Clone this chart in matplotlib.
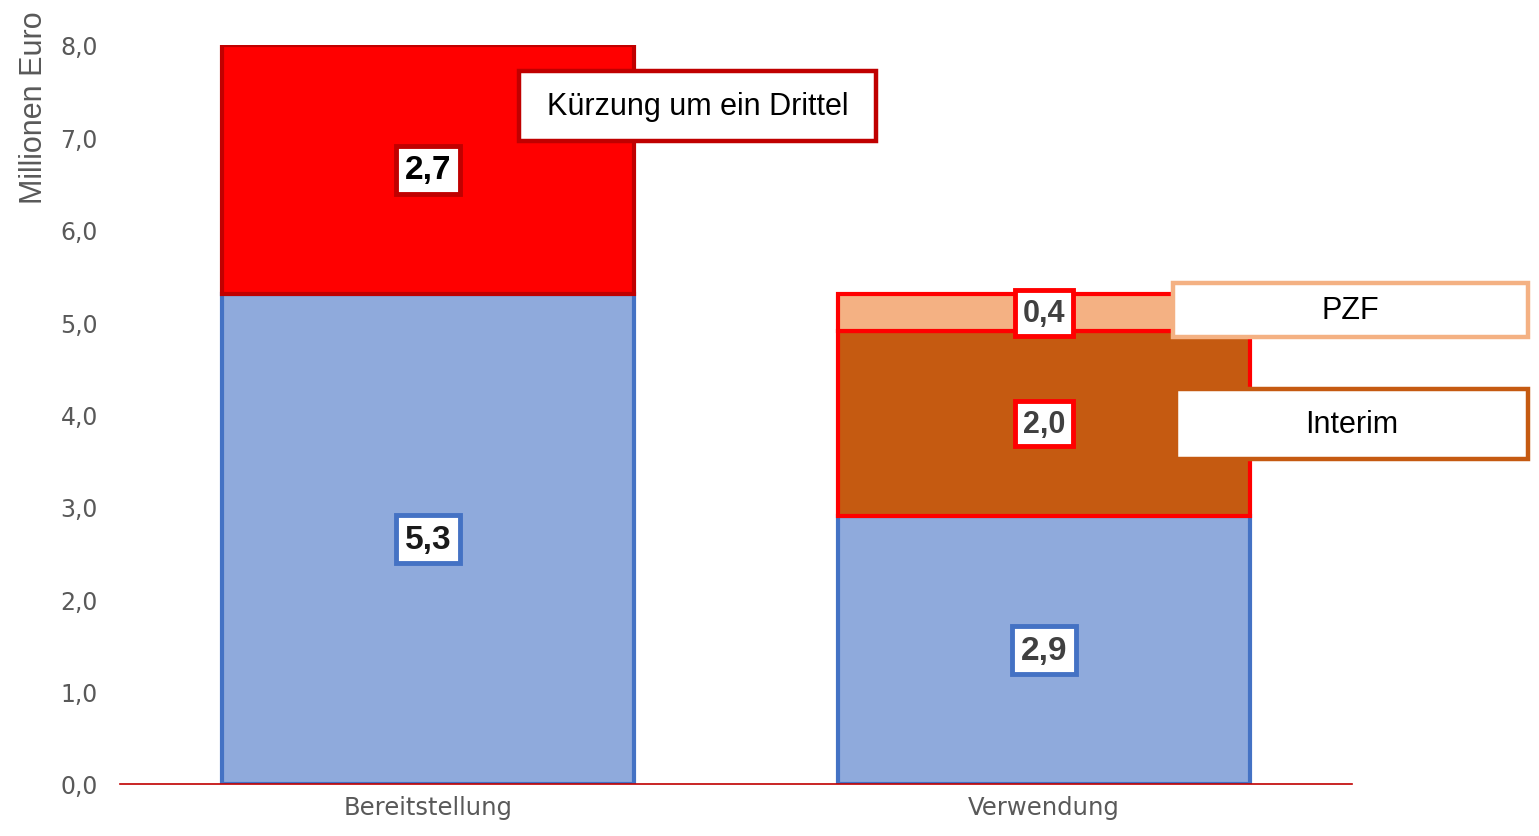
import matplotlib.pyplot as plt
from matplotlib.patches import Rectangle

categories = ['Bereitstellung', 'Verwendung']
basis = [5.3, 2.9]          # blue part
kuerzung = [2.7, 0.0]       # red part (cut)
interim = [0.0, 2.0]
pzf = [0.0, 0.4]
yticks = [0, 1, 2, 3, 4, 5, 6, 7, 8]

sans = ['Liberation Sans', 'DejaVu Sans']

fig = plt.figure(figsize=(15.39, 8.37), dpi=100)
ax = fig.add_axes([120 / 1539, (837 - 785) / 837, 1232 / 1539, (785 - 46) / 837])

x = list(range(len(categories)))
w = 0.67

# blue base
ax.bar(x, basis, width=w, color='#8FAADC', edgecolor='#4472C4', linewidth=3)
# red cut on first bar
ax.bar(x[0], kuerzung[0], bottom=basis[0], width=w, color='#FF0000',
       edgecolor='#C00000', linewidth=3)
# interim + pzf on second bar
ax.bar(x[1], interim[1], bottom=basis[1], width=w, color='#C55A11',
       edgecolor='#FF0000', linewidth=3)
ax.bar(x[1], pzf[1], bottom=basis[1] + interim[1], width=w, color='#F4B183',
       edgecolor='#FF0000', linewidth=3)


def value_box(xc, yc, val, edge, tcolor, size=24):
    ax.text(xc, yc, f'{val:.1f}'.replace('.', ','), ha='center', va='center',
            fontsize=size, fontweight='bold', color=tcolor, family=sans, zorder=5,
            bbox=dict(boxstyle='square,pad=0.25', fc='white', ec=edge, lw=3.5))


value_box(x[0], basis[0] / 2, basis[0], '#4472C4', '#1a1a1a')
value_box(x[0], basis[0] + kuerzung[0] / 2, kuerzung[0], '#C00000', 'black')
value_box(x[1], basis[1] / 2, basis[1], '#4472C4', '#404040')
value_box(x[1], basis[1] + interim[1] / 2, interim[1], '#FF0000', '#404040', 22)
value_box(x[1], basis[1] + interim[1] + pzf[1] / 2, pzf[1], '#FF0000', '#404040', 22)


def callout(xc, yc, bw, bh, text, edge):
    ax.add_patch(Rectangle((xc - bw / 2, yc - bh / 2), bw, bh, fc='white', ec=edge,
                           lw=3.2, clip_on=False, zorder=6))
    ax.text(xc, yc, text, ha='center', va='center', fontsize=22, family=sans,
            color='black', zorder=7, clip_on=False)


callout(0.4375, 7.34, 0.578, 0.76, 'Kürzung um ein Drittel', '#C00000')
callout(1.497, 5.13, 0.576, 0.584, 'PZF', '#F4B183')
callout(1.5, 3.90, 0.571, 0.758, 'Interim', '#C55A11')

ax.set_xlim(-0.5, 1.5)
ax.set_ylim(0, 8)
ax.set_yticks(yticks)
ax.set_yticklabels([f'{t:.1f}'.replace('.', ',') for t in yticks], fontsize=17,
                   color='#595959')
ax.set_xticks(x)
ax.set_xticklabels(categories, fontsize=17.5, color='#595959')
ax.tick_params(length=0)
ax.tick_params(axis='y', pad=16)
ax.tick_params(axis='x', pad=8)
for s in ['top', 'right', 'left']:
    ax.spines[s].set_visible(False)
ax.spines['bottom'].set_color('#C00000')
ax.spines['bottom'].set_linewidth(1.2)
ax.spines['bottom'].set_zorder(4)
ax.set_ylabel('Millionen Euro', fontsize=22, color='#595959', family=sans)
ax.yaxis.set_label_coords(-0.058, 0.916)

fig.savefig('out.png', dpi=100)
